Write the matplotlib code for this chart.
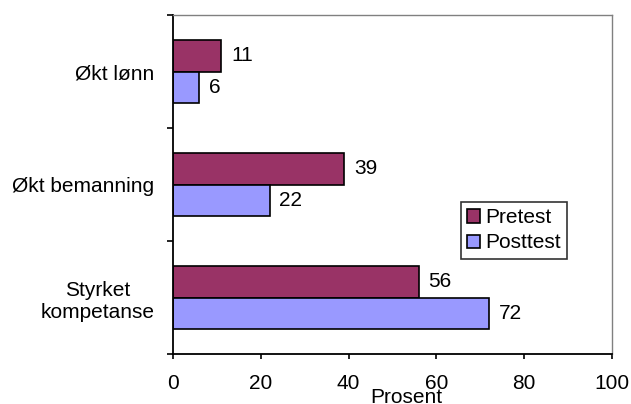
import matplotlib
matplotlib.use("Agg")
import matplotlib.pyplot as plt
import numpy as np

plt.rcParams['font.family'] = ['Liberation Sans', 'DejaVu Sans']

categories = ["Styrket\nkompetanse", "Økt bemanning", "Økt lønn"]
pretest = [56, 39, 11]
posttest = [72, 22, 6]
series_names = ["Pretest", "Posttest"]
colors = ["#993366", "#9999FF"]
x_ticks = [0, 20, 40, 60, 80, 100]

FS = 15

fig = plt.figure(figsize=(6.31, 4.04), dpi=100)
ax = fig.add_axes([173/631, 50/404, (612-173)/631, (354-15)/404])

y = np.arange(len(categories))
h = 0.283
b1 = ax.barh(y + h/2, pretest, height=h, color=colors[0], edgecolor="black", linewidth=1.2, label=series_names[0])
b2 = ax.barh(y - h/2, posttest, height=h, color=colors[1], edgecolor="black", linewidth=1.2, label=series_names[1])

for bars, vals in ((b1, pretest), (b2, posttest)):
    for bar, v in zip(bars, vals):
        ax.annotate(f"{v}", (v, bar.get_y() + bar.get_height()/2), xytext=(7, 0),
                    textcoords="offset points", va="center", ha="left", fontsize=FS)

ax.set_xlim(0, 100)
ax.set_ylim(-0.5, 2.5)
ax.set_xticks(x_ticks)
ax.set_xticklabels([str(t) for t in x_ticks], fontsize=FS)
ax.tick_params(axis="x", direction="out", length=3.6, width=1.2, pad=11)

ax.set_yticks([-0.5, 0.5, 1.5, 2.5])
ax.set_yticklabels([])
ax.tick_params(axis="y", which="major", direction="out", length=4.3, width=1.2)
ax.set_yticks(y, minor=True)
ax.set_yticklabels(categories, minor=True, fontsize=FS, multialignment="center")
ax.tick_params(axis="y", which="minor", length=0, pad=13.5)

for s in ("left", "bottom"):
    ax.spines[s].set_color("black")
    ax.spines[s].set_linewidth(1.3)
for s in ("top", "right"):
    ax.spines[s].set_color("#808080")
    ax.spines[s].set_linewidth(1.0)

fig.text(406/631, 1 - 403/404, "Prosent", ha="center", va="baseline", fontsize=FS)

leg = ax.legend(loc="upper left", bbox_to_anchor=((461-173)/(612-173), 1 - (202-15)/(354-15)),
                fontsize=FS, frameon=True, fancybox=False, edgecolor="black",
                handlelength=0.6, handleheight=0.6, handletextpad=0.25,
                borderpad=0.3, labelspacing=0.3, borderaxespad=0)
leg.get_frame().set_linewidth(1.2)

fig.savefig("out.png", dpi=100)
